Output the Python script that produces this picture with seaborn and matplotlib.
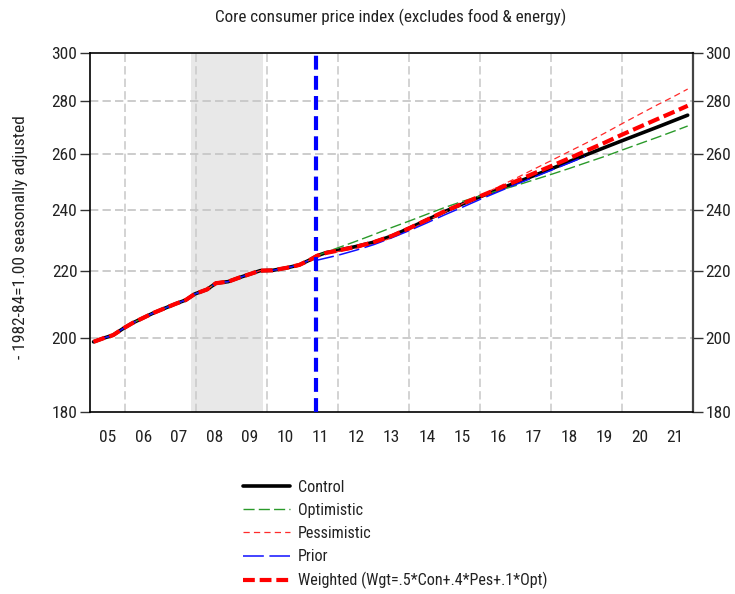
import numpy as np
import pandas as pd
import matplotlib
matplotlib.use("Agg")
import matplotlib.pyplot as plt
import seaborn as sns
from matplotlib import font_manager
from matplotlib.ticker import FixedLocator, FuncFormatter, NullFormatter

# ---------------- data ----------------
hist_x = [2005.1, 2005.4, 2005.65, 2005.95, 2006.2, 2006.5, 2006.8, 2007.1, 2007.4,
          2007.7, 2007.95, 2008.3, 2008.55, 2008.9, 2009.2, 2009.5, 2009.8, 2010.15,
          2010.55, 2010.9, 2011.2, 2011.4]
hist_y = [198.9, 200.0, 200.8, 202.8, 204.3, 205.8, 207.3, 208.6, 209.9,
          211.1, 212.9, 214.3, 216.2, 216.7, 217.9, 219.0, 220.1, 220.2,
          221.0, 221.9, 223.5, 224.8]

fc_x = [2011.65, 2012.0, 2012.5, 2013.0, 2013.5, 2014.0, 2014.5, 2015.0, 2015.5,
        2016.0, 2016.5, 2017.0, 2017.5, 2018.0, 2018.5, 2019.0, 2019.5, 2020.0,
        2020.5, 2021.0, 2021.5, 2021.85]
control_fc = [225.8, 226.6, 227.8, 229.2, 231.2, 233.8, 236.6, 239.4, 242.0,
              244.5, 247.0, 249.4, 251.9, 254.4, 257.0, 259.6, 262.2, 264.8,
              267.4, 270.0, 272.7, 274.6]
optimistic_fc = [226.0, 227.4, 229.5, 231.7, 234.0, 236.2, 238.5, 240.8, 242.9,
                 244.8, 246.6, 248.4, 250.4, 252.4, 254.5, 256.7, 258.9, 261.3,
                 263.7, 266.1, 268.6, 270.4]
pessimistic_fc = [225.6, 226.2, 227.2, 228.6, 230.6, 233.2, 236.2, 239.2, 242.1,
                  244.9, 247.9, 251.0, 254.2, 257.4, 260.7, 264.0, 267.6, 271.3,
                  275.0, 278.7, 282.3, 285.0]
weighted_fc = [225.7, 226.5, 227.7, 229.2, 231.2, 233.8, 236.6, 239.5, 242.1,
               244.7, 247.3, 249.9, 252.7, 255.4, 258.2, 261.1, 264.0, 267.1,
               270.1, 273.1, 276.1, 278.3]

prior_x = [2011.4, 2012.0, 2012.5, 2013.0, 2013.5, 2014.0, 2014.5, 2015.0, 2015.5,
           2016.0, 2016.5, 2017.0, 2017.5, 2018.0, 2018.5, 2018.95]
prior_fc = [223.4, 225.0, 226.6, 228.4, 230.6, 233.0, 235.6, 238.3, 240.9,
            243.6, 246.2, 248.8, 251.3, 253.9, 256.5, 258.9]

recession = (2007.85, 2009.88)
forecast_start = 2011.37
year_labels = ["05", "06", "07", "08", "09", "10", "11", "12", "13", "14",
               "15", "16", "17", "18", "19", "20", "21"]
y_ticks = [180, 200, 220, 240, 260, 280, 300]

title = "Core consumer price index (excludes food & energy)"
ylabel = "- 1982-84=1.00 seasonally adjusted"

# ---------------- style ----------------
sns.set_theme(style="white")
installed = {f.name for f in font_manager.fontManager.ttflist}
prefs = ["Liberation Sans Narrow", "Roboto Condensed", "Open Sans Condensed",
         "Liberation Sans", "DejaVu Sans"]
plt.rcParams["font.family"] = [p for p in prefs if p in installed] or ["DejaVu Sans"]
plt.rcParams["lines.scale_dashes"] = False

TICK_FS = 12.5
fig = plt.figure(figsize=(7.35, 5.94), dpi=100)
ax = fig.add_axes([90 / 735, 1 - 412 / 594, 603 / 735, 359 / 594])

def series(xh, yh, xf, yf):
    return pd.DataFrame({"year": list(xh) + list(xf), "value": list(yh) + list(yf)})

hx_prior = hist_x[:-1]
hy_prior = hist_y[:-1]

specs = [
    ("Control", series(hist_x, hist_y, fc_x, control_fc), "black", 2.6, "-"),
    ("Optimistic", series(hist_x, hist_y, fc_x, optimistic_fc), "#2a9a2a", 1.0, (0, (8, 3))),
    ("Pessimistic", series(hist_x, hist_y, fc_x, pessimistic_fc), "#ff2a2a", 0.9, (0, (4.5, 3))),
    ("Prior", series(hx_prior, hy_prior, prior_x, prior_fc), "#1010ff", 1.1, (0, (15, 4))),
    ("Weighted (Wgt=.5*Con+.4*Pes+.1*Opt)", series(hist_x, hist_y, fc_x, weighted_fc),
     "#ff0000", 3.0, (0, (8.5, 3.5))),
]

ax.axvspan(recession[0], recession[1], color="#e8e8e8", lw=0, zorder=0)

handles = []
for name, df, col, lw, ls in specs:
    sns.lineplot(data=df, x="year", y="value", ax=ax, color=col, lw=lw,
                 linestyle=ls, label=name, sort=True, estimator=None, legend=False,
                 zorder=3)
    handles.append(ax.get_lines()[-1])

ax.axvline(forecast_start, color="#0000ff", lw=3.0, linestyle=(0, (10, 4.5)), zorder=4)

# axes scales
ax.set_yscale("log")
ax.set_ylim(180, 300)
ax.set_xlim(2005, 2022)
ax.yaxis.set_major_locator(FixedLocator(y_ticks))
ax.yaxis.set_major_formatter(FuncFormatter(lambda v, p: f"{v:.0f}"))
ax.yaxis.set_minor_locator(FixedLocator([]))
ax.yaxis.set_minor_formatter(NullFormatter())

ax.xaxis.set_major_locator(FixedLocator(list(range(2006, 2022, 2))))
ax.xaxis.set_major_formatter(NullFormatter())
quarters = [2005 + q * 0.25 for q in range(0, 17 * 4 + 1)]
ax.xaxis.set_minor_locator(FixedLocator(quarters))
label_map = {2005.5 + i: lab for i, lab in enumerate(year_labels)}
ax.xaxis.set_minor_formatter(FuncFormatter(
    lambda v, p: label_map.get(round(v * 4) / 4, "")))

ax.tick_params(axis="x", which="major", direction="out", length=7, width=1, color="#333333")
ax.tick_params(axis="x", which="minor", direction="out", length=4, width=1,
               color="#333333", labelsize=TICK_FS, pad=9, labelcolor="#222222")
ax.tick_params(axis="y", which="major", direction="out", length=7, width=1,
               color="#333333", labelsize=TICK_FS, labelcolor="#222222", pad=2,
               left=True, right=True, labelleft=True, labelright=True)
ax.tick_params(axis="y", which="minor", left=False, right=False)

# grid
ax.grid(False)
for gx in range(2006, 2022, 2):
    ax.axvline(gx, color="#cccccc", lw=1.2, linestyle=(0, (6, 3)), zorder=1)
for gy in y_ticks[1:-1]:
    ax.axhline(gy, color="#c4c4c4", lw=1.2, linestyle=(0, (6, 3)), zorder=1)

for s in ["left", "top", "bottom"]:
    ax.spines[s].set_color("black")
    ax.spines[s].set_linewidth(1.2)
ax.spines["right"].set_color("#444444")
ax.spines["right"].set_linewidth(1.6)

ax.set_xlabel("")
ax.set_ylabel("")
fig.text(21 / 735, 1 - 237 / 594, ylabel, rotation=90, ha="center", va="center",
         fontsize=12.5, color="#222222")
fig.text(391 / 735, 1 - 17 / 594, title, ha="center", va="center",
         fontsize=12.3, color="#222222")

fig.legend(handles=handles, labels=[s[0] for s in specs],
           loc="upper left", bbox_to_anchor=(243 / 735, 1 - 480 / 594),
           frameon=False, fontsize=11.6, handlelength=2.9, handletextpad=0.5,
           labelspacing=0.5, borderaxespad=0, borderpad=0, labelcolor="#222222")

fig.savefig("out.png", dpi=100)
